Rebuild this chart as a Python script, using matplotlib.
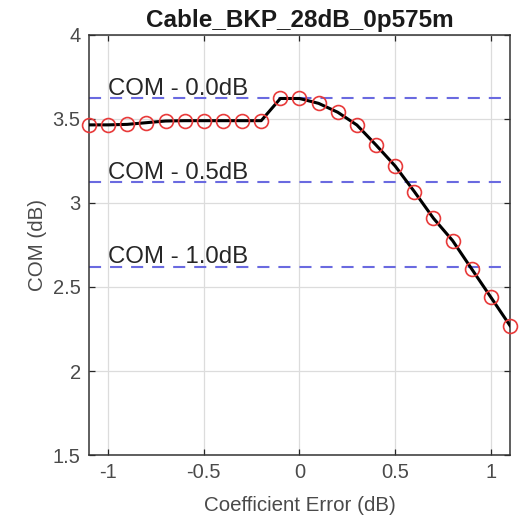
import matplotlib
matplotlib.use("Agg")
import matplotlib.pyplot as plt

# Coefficient error sweep and resulting COM
coef_error_db = [-1.1, -1.0, -0.9, -0.8, -0.7, -0.6, -0.5, -0.4, -0.3, -0.2,
                 -0.1, 0.0, 0.1, 0.2, 0.3, 0.4, 0.5, 0.6, 0.7, 0.8, 0.9, 1.0, 1.1]
com_db = [3.465, 3.465, 3.468, 3.478, 3.488, 3.49, 3.49, 3.49, 3.49, 3.49,
          3.622, 3.622, 3.593, 3.54, 3.464, 3.345, 3.22, 3.068, 2.909, 2.776,
          2.607, 2.439, 2.27]

# Reference levels relative to the peak COM
ref_offsets_db = [0.0, 0.5, 1.0]
ref_labels = ["COM - 0.0dB", "COM - 0.5dB", "COM - 1.0dB"]

title = "Cable_BKP_28dB_0p575m"
x_ticks = [-1, -0.5, 0, 0.5, 1]
x_tick_labels = ["-1", "-0.5", "0", "0.5", "1"]
y_ticks = [1.5, 2, 2.5, 3, 3.5, 4]
y_tick_labels = ["1.5", "2", "2.5", "3", "3.5", "4"]

plt.rcParams["font.family"] = ["Liberation Sans", "DejaVu Sans"]
txt = "#262626"

fig = plt.figure(figsize=(5.24, 5.16), dpi=100)
ax = fig.add_axes([0.1698, 0.1182, 0.8035, 0.814])

ax.grid(True, color="#dcdcdc", linewidth=0.9)
ax.set_axisbelow(True)

ax.plot(coef_error_db, com_db, color="black", linewidth=2.2, zorder=3)
ax.plot(coef_error_db, com_db, linestyle="none", marker="o", markersize=10,
        markerfacecolor="none", markeredgecolor="#e83a3a", markeredgewidth=1.2,
        zorder=4, clip_on=False)

peak = max(com_db)
for off, lab in zip(ref_offsets_db, ref_labels):
    lvl = peak - off
    ln = ax.axhline(lvl, color="#6a6ae0", linewidth=1.5, zorder=2)
    ln.set_dashes((5.8, 4.3))
    ax.text(-1.0, lvl + 0.02, lab, fontsize=17.3, color=txt,
            ha="left", va="baseline", zorder=5)

ax.set_xlim(-1.1, 1.1)
ax.set_ylim(1.5, 4)
ax.set_xticks(x_ticks)
ax.set_xticklabels(x_tick_labels)
ax.set_yticks(y_ticks)
ax.set_yticklabels(y_tick_labels)

ax.tick_params(direction="in", length=4, width=0.9, colors="#262626",
               labelcolor="#4a4a4a", labelsize=14.5, top=True, right=True, pad=6)
for s in ax.spines.values():
    s.set_color("#333333")
    s.set_linewidth(1.1)

ax.set_xlabel("Coefficient Error (dB)", fontsize=14.8, color="#4a4a4a", labelpad=10)
ax.set_ylabel("COM (dB)", fontsize=14.8, color="#4a4a4a", labelpad=4)
ax.set_title(title, fontsize=17.5, fontweight="bold", color="#1a1a1a", pad=6)

fig.savefig("out.png", dpi=100)
